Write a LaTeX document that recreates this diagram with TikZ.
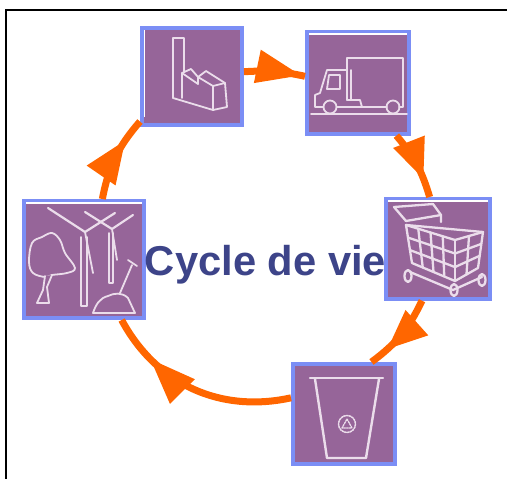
\documentclass[tikz,border=0pt]{standalone}
\usepackage{fontspec}
\setmainfont{Liberation Sans}
\usetikzlibrary{arrows.meta,calc,decorations.markings}
\definecolor{stagefill}{HTML}{966599}
\definecolor{stageedge}{HTML}{7B8EF5}
\definecolor{cycleorange}{HTML}{FF6600}
\definecolor{titleblue}{HTML}{3D4489}
\definecolor{iconwhite}{HTML}{EBDDEB}
\tikzset{
  stagebox/.style={draw=stageedge, fill=stagefill, line width=4pt, inner sep=0pt},
  cycleline/.style={draw=cycleorange, line width=7pt},
  headat/.style n args={3}{postaction={decorate}, decoration={markings,
    mark=at position #1 with {\arrow{Triangle[length=#2pt,width=#3pt]}}}},
  iconline/.style={draw=iconwhite, line width=1.8pt, line join=round, line cap=round},
  cartline/.style={draw=iconwhite, line width=2.3pt, line join=round, line cap=round},
  strip/.style={draw=white, line width=1.3pt},
}
\begin{document}
\begin{tikzpicture}[x=1pt, y=-1pt]
  \useasboundingbox (0,0) rectangle (507,479);
  % draw black frame
  \draw[black, line width=2pt] (6,479) -- (6,10) -- (507,10);
  % draw stage boxes
  \node[stagebox, minimum width=100pt, minimum height=96.7pt] (factory) at (192,76.3) {};
  \node[stagebox, minimum width=102pt, minimum height=101.7pt] (truck) at (358,82.8) {};
  \node[stagebox, minimum width=103.7pt, minimum height=99.7pt] (cart) at (437.85,248.85) {};
  \node[stagebox, minimum width=101.7pt, minimum height=100pt] (bin) at (343.85,414) {};
  \node[stagebox, minimum width=119.7pt, minimum height=117pt] (nature) at (83.85,259.5) {};
  % draw orange arcs between the boxes
  \draw[cycleline, headat={0.94}{45}{32}] (factory.5) to[bend left=8] (truck.173);
  \draw[cycleline, headat={0.73}{40}{32}] (truck.-54) to[bend left=12] (cart.99);
  \draw[cycleline, headat={0.75}{40}{32}] (cart.-107) to[bend left=14] (bin.62);
  \draw[cycleline, headat={0.76}{46}{33}] (bin.163) to[bend left=37] (nature.-58);
  \draw[cycleline, headat={0.73}{43}{33}] (nature.73) to[bend left=15] (factory.221);
  % title
  \node[anchor=base, text=titleblue, font=\fontsize{41.7}{50}\selectfont\bfseries] (title) at (265.5,275) {Cycle de vie};
  % white strips on the boxes
  \draw[strip] (144.5,30) -- (144.5,117);
  \draw[strip] (309,34) -- (407,34);
  \draw[strip] (26,203) -- (142,203);
  \draw[strip] (388,201) -- (488,201);
  % factory icon
  \draw[iconline] (173,98) -- (173,38) -- (184,38) -- (184,72);
  \draw[iconline] (173,98) -- (213,110) -- (227,107) -- (225,83) -- (206,71) -- (198,77) -- (191,69) -- (182,73) -- (182,98);
  \draw[iconline] (182,73) -- (198,84) -- (198,77) -- (213,86) -- (225,83);
  \draw[iconline] (213,86) -- (213,110);
  % truck icon
  \draw[iconline] (347,100) -- (347,58) -- (403,58) -- (403,107) -- (399,107);
  \draw[iconline] (387,107) -- (362,107) -- (360,100) -- (347,100);
  \draw[iconline] (347,70) -- (327,70) -- (320,93) -- (315,95) -- (315,107) -- (323,107);
  \draw[iconline] (337,107) -- (362,107);
  \draw[iconline] (329,75) -- (340,75) -- (340,89) -- (327,89) -- cycle;
  \draw[iconline] (351,70) -- (351,100);
  \draw[iconline] (330,107) circle (6.5);
  \draw[iconline] (393,107) circle (6.5);
  \draw[iconline] (311,114) -- (407,114);
  % cart icon
  \coordinate (cartA) at (406,225);
  \coordinate (cartB) at (455,240);
  \coordinate (cartC) at (483,232);
  \coordinate (cartD) at (412,263);
  \coordinate (cartE) at (455,281);
  \coordinate (cartF) at (478,268);
  \draw[cartline] (406,221) -- (394,207) -- (433,204) -- (441,215) -- (441,222);
  \draw[cartline] (406,221) -- (441,215);
  \draw[cartline] (cartA) -- (cartC) -- (cartF) -- (cartE) -- (cartD) -- cycle;
  \draw[cartline] (cartA) -- (cartB) -- (cartC);
  \draw[cartline] (cartB) -- (cartE);
  \foreach \t in {0.25,0.5,0.75} {
    \draw[cartline] ($(cartA)!\t!(cartB)$) -- ($(cartD)!\t!(cartE)$);
  }
  \draw[cartline] ($(cartB)!0.5!(cartC)$) -- ($(cartE)!0.5!(cartF)$);
  \foreach \t in {0.33,0.66} {
    \draw[cartline] ($(cartA)!\t!(cartD)$) -- ($(cartB)!\t!(cartE)$) -- ($(cartC)!\t!(cartF)$);
  }
  \draw[cartline] (410,272) -- (453,290) -- (482,277);
  \draw[cartline] (408,276) ellipse (3.5 and 6);
  \draw[cartline] (454,290) ellipse (3.5 and 6);
  \draw[cartline] (482,280) ellipse (3.5 and 6);
  % bin icon
  \draw[iconline, line width=2.4pt] (310,378) -- (383,378);
  \draw[iconline, line width=2.4pt] (315,379) -- (327,458) -- (366,458) -- (379,379);
  \draw[iconline, densely dotted, line width=1.5pt] (347,424) circle (8.5);
  \draw[iconline, densely dotted, line width=1.3pt] (347,419) -- (352,428) -- (342,428) -- cycle;
  % tree, turbines and spade icon
  \draw[iconline] plot[smooth cycle, tension=0.6] coordinates {(45,277) (33,273) (29,262) (32,243) (42,237) (52,233) (60,240) (65,253) (75,268) (67,273) (52,275)};
  \draw[iconline, fill=stagefill] (45,276) -- (43,290) -- (37,303) -- (49,303) -- (47,287) -- (52,275);
  \draw[iconline] (81,237) -- (81,306) -- (87,306) -- (87,237);
  \draw[iconline] (109,233) -- (109,283) -- (113,283) -- (113,233);
  \draw[iconline, line width=2.2pt] (85,232) -- (48,208);
  \draw[iconline, line width=2.2pt] (85,232) -- (115,213);
  \draw[iconline] (85,232) -- (93,273);
  \draw[iconline, line width=2.2pt] (112,229) -- (85,212);
  \draw[iconline, line width=2.2pt] (112,229) -- (133,215);
  \draw[iconline] (112,229) -- (117,260);
  \draw[iconline] (120,293) -- (132,265);
  \draw[iconline] (128,260) -- (137,266);
  \draw[iconline] (93,313) .. controls (96,304) and (100,298) .. (108,296) .. controls (114,293) and (122,292) .. (128,298) -- (135,313) -- cycle;
\end{tikzpicture}
\end{document}
